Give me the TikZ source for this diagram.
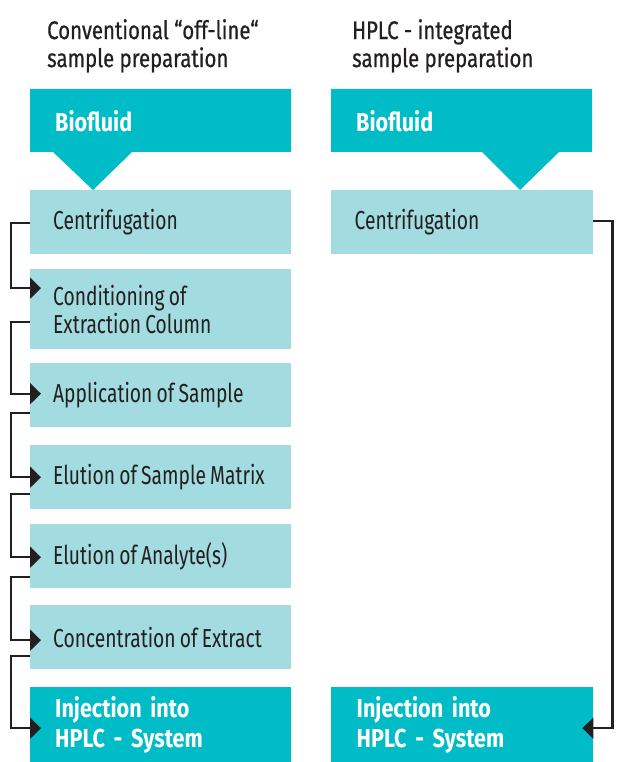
\documentclass[tikz,border=0pt]{standalone}
\usepackage{fontspec}
\setmainfont{Fira Sans}[FakeStretch=0.74,BoldFeatures={FakeStretch=0.83}]
\newfontfamily\hdfont{Fira Sans}[FakeStretch=0.8,FakeBold=0.6]
\usetikzlibrary{arrows.meta,calc}
\definecolor{dteal}{HTML}{00BCC6}
\definecolor{lteal}{HTML}{A3DCE0}
\definecolor{ink}{HTML}{231F20}
\hyphenpenalty=10000
\exhyphenpenalty=10000
\hbadness=10000
\hfuzz=100pt
\newcommand\tightspaces{\spaceskip=4.2pt plus 1pt minus 1pt\relax}
\begin{document}
\begin{tikzpicture}[x=1pt,y=-1pt,
  stepbox/.style={fill=lteal,draw=none,minimum width=261pt,minimum height=64pt,
    text width=215pt,inner xsep=23pt,inner ysep=0pt,align=left,text=ink,
    font=\fontsize{26}{28}\selectfont,execute at begin node=\tightspaces},
  endbox/.style={fill=dteal,draw=none,minimum width=261pt,minimum height=75pt,
    text width=211pt,inner xsep=25pt,inner ysep=0pt,align=left,text=white,
    font=\bfseries\fontsize{26}{30}\selectfont},
  head/.style={anchor=north west,inner sep=0pt,align=left,text=ink,
    font=\hdfont\fontsize{25.5}{28}\selectfont},
  conn/.style={draw=ink,line width=2.2pt,-{Triangle[length=11pt,width=21pt]}},
]
\useasboundingbox (0,0) rectangle (630,762);
% headers
\node[head] (h1) at (47,19) {Conventional “off-line“\\sample preparation};
\node[head] (h2) at (352,19) {HPLC - integrated\\sample preparation};
% biofluid shapes
\fill[dteal] (30,89) -- (291,89) -- (291,152) -- (132,152) -- (93,190) -- (53,152) -- (30,152) -- cycle;
\fill[dteal] (331,89) -- (592,89) -- (592,152) -- (559,152) -- (520,190) -- (482,152) -- (331,152) -- cycle;
\node[endbox,minimum height=63pt,anchor=north west] (bf1) at (30,89) {Biofluid};
\node[endbox,minimum height=63pt,anchor=north west,fill=none] (bf2) at (331,89) {Biofluid};
% left column
\node[stepbox,anchor=north west] (l1) at (30,190) {Centrifugation};
\node[stepbox,anchor=north west,minimum height=80pt] (l2) at (30,269) {\mbox{Conditioning of}\\\mbox{Extraction Column}};
\node[stepbox,anchor=north west] (l3) at (30,363) {\mbox{Application of Sample}};
\node[stepbox,anchor=north west] (l4) at (30,445) {\mbox{Elution of Sample Matrix}};
\node[stepbox,anchor=north west] (l5) at (30,524) {\mbox{Elution of Analyte(s)}};
\node[stepbox,anchor=north west] (l6) at (30,605) {\mbox{Concentration of Extract}};
\node[endbox,anchor=north west] (l7) at (30,687) {Injection into\\HPLC - System};
% right column
\node[stepbox,anchor=north west,minimum width=262pt] (r1) at (331,190) {Centrifugation};
\node[endbox,anchor=north west,minimum width=262pt] (r2) at (331,687) {Injection into\\HPLC - System};
% connectors
\draw[conn] ($(l1.west)+(0,1)$) -- ++(-19,0) |- ($(l2.west)+(11,-21)$);
\draw[conn] ($(l2.west)+(0,13)$) -- ++(-19,0) |- ($(l3.west)+(11,-1.5)$);
\draw[conn] ($(l3.west)+(0,17.5)$) -- ++(-19,0) |- ($(l4.west)+(11,0)$);
\draw[conn] ($(l4.west)+(0,17)$) -- ++(-19,0) |- ($(l5.west)+(11,1)$);
\draw[conn] ($(l5.west)+(0,21)$) -- ++(-19,0) |- ($(l6.west)+(11,3)$);
\draw[conn] ($(l6.west)+(0,19)$) -- ++(-19,0) |- ($(l7.west)+(11,3.5)$);
\draw[conn] ($(r1.east)+(0,-1)$) -- ++(19,0) |- ($(r2.east)+(-11,3.5)$);
\end{tikzpicture}
\end{document}
